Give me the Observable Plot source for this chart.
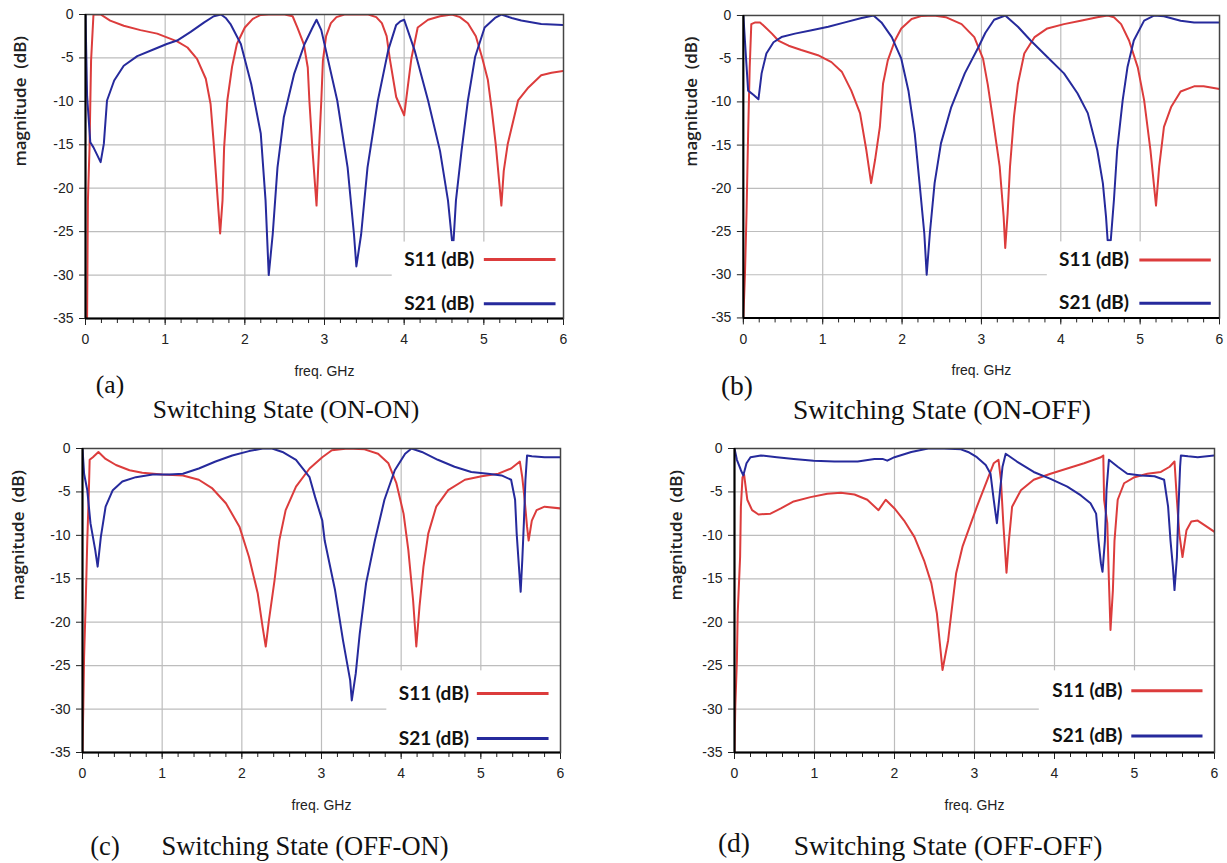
<!DOCTYPE html>
<html><head><meta charset="utf-8">
<script src="https://cdn.jsdelivr.net/npm/d3@7"></script>
<script src="https://cdn.jsdelivr.net/npm/@observablehq/plot@0.6"></script>
<style>
body{margin:0;background:#fff;}
#root{position:relative;width:1227px;height:863px;overflow:hidden;background:#fff;}
.panel{position:absolute;}
.cap{position:absolute;font-family:"Liberation Serif","Times New Roman",serif;font-size:25px;color:#111;white-space:nowrap;transform:translate(-50%,-50%);line-height:1;}
</style></head><body><div id="root"></div>
<script>
// ---- axis ticks / labels ----
const xTicks = [0,1,2,3,4,5,6];
const yTicks = [0,-5,-10,-15,-20,-25,-30,-35];
const seriesNames = ["S11 (dB)","S21 (dB)"];
const seriesColors = ["#dc3c3c","#262a9c"];
const xLabel = "freq. GHz";
const yLabel = "magnitude  (dB)";

// ---- (a) ON-ON : [freq GHz, dB] ----
const aS11 = [[0.02,-35],[0.03,-21.5],[0.05,-15.5],[0.07,-5.3],[0.1,0],[0.19,0],[0.31,-0.7],[0.48,-1.3],[0.69,-1.8],[0.9,-2.2],[1.07,-2.8],[1.15,-3.1],[1.28,-3.8],[1.4,-5.1],[1.51,-7.4],[1.57,-10.3],[1.61,-14.9],[1.66,-21.4],[1.69,-25.2],[1.72,-21.4],[1.74,-15.3],[1.78,-9.9],[1.84,-6],[1.9,-3.4],[2.0,-1.5],[2.1,-0.5],[2.2,-0.05],[2.3,0],[2.5,0],[2.6,-0.2],[2.66,-1.5],[2.74,-3.4],[2.79,-6.1],[2.81,-9.9],[2.85,-15.7],[2.9,-22],[2.93,-15.7],[2.96,-9.9],[2.98,-5.3],[3.02,-2.5],[3.08,-1],[3.15,-0.3],[3.25,0],[3.55,0],[3.65,-0.3],[3.72,-1],[3.78,-2.5],[3.82,-5.1],[3.9,-9.5],[4.0,-11.6],[4.05,-8],[4.09,-5.1],[4.17,-1.5],[4.3,-0.6],[4.45,-0.2],[4.6,0],[4.7,-0.3],[4.8,-1],[4.9,-2.5],[4.98,-5],[5.05,-7.5],[5.1,-11],[5.15,-15],[5.2,-20],[5.22,-22],[5.25,-18],[5.3,-14.9],[5.43,-9.9],[5.56,-8.4],[5.72,-7.0],[5.85,-6.7],[6.0,-6.5]];
const aS21 = [[0,0],[0.02,-9.4],[0.06,-14.7],[0.1,-15.3],[0.19,-17],[0.23,-14.9],[0.27,-9.9],[0.36,-7.6],[0.48,-5.9],[0.65,-4.8],[0.86,-4.0],[1.02,-3.4],[1.15,-3.0],[1.32,-2.0],[1.49,-0.9],[1.61,-0.2],[1.7,0],[1.76,-0.4],[1.82,-1.1],[1.95,-3.4],[2.08,-8],[2.2,-13.7],[2.26,-21.4],[2.3,-30],[2.35,-25.3],[2.41,-17.6],[2.49,-11.8],[2.62,-6.8],[2.75,-3.4],[2.85,-1.5],[2.9,-0.6],[2.96,-1.8],[3.16,-9.9],[3.29,-17.6],[3.37,-25.3],[3.4,-29],[3.46,-25.3],[3.54,-17.6],[3.67,-9.9],[3.8,-4.1],[3.9,-1.2],[3.95,-0.8],[4.0,-0.6],[4.13,-4.1],[4.3,-9.9],[4.45,-15.7],[4.55,-21.4],[4.6,-26],[4.62,-26],[4.65,-21.4],[4.72,-15.7],[4.8,-9.9],[4.89,-4.9],[5.01,-1.5],[5.14,-0.4],[5.22,0],[5.35,-0.4],[5.47,-0.7],[5.72,-1.1],[6.0,-1.2]];

// ---- (b) ON-OFF ----
const bS11 = [[0,-35],[0.02,-30],[0.04,-22.9],[0.06,-13.7],[0.08,-6],[0.1,-1.0],[0.15,-0.8],[0.21,-0.8],[0.27,-1.3],[0.36,-2.1],[0.44,-2.9],[0.57,-3.5],[0.73,-4.0],[0.94,-4.6],[1.11,-5.4],[1.24,-6.5],[1.36,-8.7],[1.47,-11.3],[1.55,-15.6],[1.61,-19.4],[1.66,-16.7],[1.72,-12.9],[1.76,-7.9],[1.82,-5.2],[1.91,-2.9],[1.99,-1.5],[2.12,-0.4],[2.25,-0.05],[2.4,0],[2.55,-0.2],[2.75,-1.0],[2.91,-2.5],[3.02,-5],[3.08,-8],[3.14,-11.7],[3.23,-17.5],[3.28,-23.3],[3.3,-26.9],[3.33,-22.9],[3.36,-17.5],[3.41,-11.7],[3.46,-7.9],[3.54,-4.4],[3.67,-2.5],[3.83,-1.5],[4.04,-1.0],[4.25,-0.6],[4.46,-0.2],[4.59,0],[4.67,-0.2],[4.76,-1.0],[4.86,-2.9],[4.97,-6],[5.05,-9.8],[5.13,-15.6],[5.2,-22],[5.24,-17.5],[5.3,-12.9],[5.39,-10.6],[5.51,-8.8],[5.68,-8.2],[5.8,-8.2],[6.0,-8.5]];
const bS21 = [[0,0],[0.03,-4.4],[0.06,-8.7],[0.13,-9.2],[0.19,-9.7],[0.23,-6.7],[0.29,-4.4],[0.38,-3.1],[0.48,-2.5],[0.65,-2.1],[0.86,-1.7],[1.07,-1.3],[1.28,-0.8],[1.49,-0.3],[1.64,0],[1.74,-0.8],[1.87,-2.5],[1.99,-5],[2.08,-8.7],[2.16,-13.7],[2.22,-19.4],[2.28,-25.2],[2.31,-30],[2.35,-25.2],[2.41,-19.4],[2.49,-14.8],[2.62,-10.6],[2.79,-6.7],[2.96,-3.7],[3.05,-2],[3.16,-0.5],[3.3,0],[3.46,-1.3],[3.62,-2.9],[3.83,-4.8],[4.04,-6.7],[4.21,-9],[4.34,-11.3],[4.46,-15.6],[4.53,-19.4],[4.57,-23.3],[4.59,-26],[4.63,-26],[4.67,-21.3],[4.71,-15.6],[4.78,-9.8],[4.84,-6],[4.92,-2.9],[5.05,-0.6],[5.18,0],[5.3,-0.1],[5.51,-0.6],[5.68,-0.8],[6.0,-0.8]];

// ---- (c) OFF-ON ----
const cS11 = [[0,-35],[0.01,-29.7],[0.02,-24],[0.04,-17.8],[0.06,-10.6],[0.08,-4.8],[0.09,-1.3],[0.13,-1.0],[0.2,-0.4],[0.29,-1.2],[0.42,-1.9],[0.59,-2.5],[0.75,-2.8],[1.0,-3.0],[1.26,-3.1],[1.46,-3.6],[1.63,-4.6],[1.8,-6.3],[1.97,-9.0],[2.09,-12.5],[2.2,-16.7],[2.26,-20.5],[2.3,-22.8],[2.34,-19.8],[2.41,-15.2],[2.47,-10.6],[2.55,-7.1],[2.68,-4.4],[2.85,-2.3],[3.01,-1.0],[3.13,-0.2],[3.33,0],[3.54,-0.1],[3.71,-0.6],[3.84,-1.7],[3.94,-4.0],[4.03,-7.5],[4.09,-11.7],[4.15,-17.5],[4.19,-22.8],[4.23,-18.2],[4.28,-13.6],[4.34,-9.8],[4.44,-6.7],[4.59,-4.8],[4.8,-3.6],[5.01,-3.2],[5.22,-2.9],[5.38,-2.3],[5.49,-1.5],[5.52,-3.3],[5.55,-5.9],[5.58,-9.0],[5.6,-10.6],[5.64,-8.3],[5.7,-7.1],[5.8,-6.7],[6.0,-6.9]];
const cS21 = [[0,0],[0.02,-2.9],[0.06,-4.8],[0.1,-8.6],[0.16,-11.7],[0.19,-13.6],[0.23,-10.2],[0.29,-6.7],[0.38,-4.8],[0.5,-3.8],[0.67,-3.3],[0.88,-3.0],[1.09,-3.0],[1.26,-2.9],[1.46,-2.3],[1.67,-1.5],[1.88,-0.8],[2.09,-0.3],[2.26,0],[2.38,0],[2.51,-0.4],[2.68,-1.3],[2.85,-3.3],[2.92,-5.6],[3.01,-8.3],[3.04,-10.6],[3.17,-16.3],[3.27,-22.1],[3.36,-26.7],[3.38,-29],[3.43,-25.9],[3.48,-21.3],[3.56,-15.5],[3.67,-10.6],[3.79,-5.9],[3.92,-2.5],[4.05,-0.6],[4.13,0],[4.26,-0.4],[4.46,-1.3],[4.67,-2.1],[4.88,-2.7],[5.09,-2.9],[5.26,-3.1],[5.38,-3.6],[5.43,-5.9],[5.45,-9.8],[5.47,-12.5],[5.5,-16.5],[5.52,-12.9],[5.54,-8.6],[5.56,-3.6],[5.58,-0.8],[5.64,-0.9],[5.8,-1.0],[6.0,-1.0]];

// ---- (d) OFF-OFF ----
const dS11 = [[0,-35],[0.01,-29.7],[0.03,-24.4],[0.04,-19],[0.07,-12.5],[0.08,-6.7],[0.1,-3.3],[0.12,-3.0],[0.16,-5.9],[0.22,-7.1],[0.3,-7.6],[0.45,-7.5],[0.58,-6.9],[0.74,-6.1],[0.95,-5.6],[1.16,-5.2],[1.33,-5.1],[1.5,-5.3],[1.66,-5.9],[1.8,-7.1],[1.89,-5.9],[2.0,-6.9],[2.12,-8.3],[2.25,-10.2],[2.37,-12.9],[2.46,-15.5],[2.53,-19],[2.6,-25.5],[2.67,-22.1],[2.72,-18.2],[2.77,-14.4],[2.85,-11.3],[2.94,-9.0],[3.03,-6.7],[3.16,-3.6],[3.24,-1.7],[3.3,-1.3],[3.33,-3.6],[3.36,-8.6],[3.4,-14.3],[3.43,-10.6],[3.47,-6.7],[3.58,-4.8],[3.74,-3.6],[3.95,-2.9],[4.16,-2.3],[4.37,-1.7],[4.58,-1.0],[4.61,-0.8],[4.62,-5.9],[4.66,-8.6],[4.68,-15.2],[4.7,-20.9],[4.73,-16.3],[4.75,-10.6],[4.79,-5.9],[4.87,-4.0],[5.0,-3.3],[5.16,-2.9],[5.33,-2.7],[5.44,-2.1],[5.5,-1.5],[5.53,-5.9],[5.56,-9.8],[5.6,-12.5],[5.65,-9.4],[5.71,-8.4],[5.79,-8.3],[5.87,-8.8],[6.0,-9.6]];
const dS21 = [[0,0],[0.03,-1.3],[0.08,-2.5],[0.11,-3.1],[0.15,-1.7],[0.2,-1.0],[0.33,-0.8],[0.53,-1.0],[0.74,-1.2],[0.99,-1.4],[1.25,-1.5],[1.54,-1.5],[1.75,-1.2],[1.85,-1.2],[1.91,-1.4],[2.0,-1.0],[2.21,-0.4],[2.42,0],[2.62,0],[2.83,-0.1],[2.92,-0.4],[3.03,-1.0],[3.14,-1.9],[3.2,-2.9],[3.24,-5.9],[3.28,-8.6],[3.32,-4.8],[3.35,-2.1],[3.39,-0.6],[3.53,-1.5],[3.74,-2.7],[3.95,-3.5],[4.16,-4.4],[4.33,-5.4],[4.45,-6.3],[4.52,-7.5],[4.55,-10.6],[4.58,-13.2],[4.6,-14.2],[4.63,-10.6],[4.65,-4.8],[4.68,-1.3],[4.79,-2.1],[4.91,-2.9],[5.08,-3.1],[5.25,-3.2],[5.37,-3.6],[5.42,-6.7],[5.45,-10.6],[5.48,-13.6],[5.5,-16.3],[5.53,-12.5],[5.55,-6.7],[5.57,-2.1],[5.58,-0.8],[5.67,-0.9],[5.79,-1.0],[6.0,-0.8]];

const panelLetters = ["(a)","(b)","(c)","(d)"];
const panelTitles = ["Switching State (ON-ON)","Switching State (ON-OFF)","Switching State (OFF-ON)","Switching State (OFF-OFF)"];

// ---- layout (page pixels) ----
const layout = [
  {L:85, R:563, T:14, B:318, ylabDx:-65, capSize:25.5, letter:[110,385], title:[286,410], leg:{boxX:3.85, boxY:-26.2, textX:4.88, lx1:5.0, lx2:5.9, y:[-28.2,-33.3]}},
  {L:743,R:1220,T:15, B:318, ylabDx:-52, capSize:27.5, letter:[737,386], title:[942,410], leg:{boxX:3.83, boxY:-26.2, textX:4.86, lx1:4.99, lx2:5.89, y:[-28.3,-33.3]}},
  {L:82, R:560, T:448,B:752, ylabDx:-64, capSize:26.5, letter:[105,846], title:[305,846], leg:{boxX:3.82, boxY:-25.6, textX:4.85, lx1:4.95, lx2:5.85, y:[-28.2,-33.4]}},
  {L:734,R:1214,T:448,B:752, ylabDx:-58, capSize:27.5, letter:[734,843], title:[948,846], leg:{boxX:3.81, boxY:-25.6, textX:4.85, lx1:4.96, lx2:5.85, y:[-27.9,-33.1]}}
];
const panelData = [[aS11,aS21],[bS11,bS21],[cS11,cS21],[dS11,dS21]];

const root = document.getElementById("root");
const minorTicks = d3.range(0, 30.5, 1).map(i => i / 5);
const ML = 80, MT = 14, MR = 8, MB = 70;

layout.forEach((p, i) => {
  const [s11, s21] = panelData[i];
  const lg = p.leg;
  const legendRows = seriesNames.map((name, k) => ({name, color: seriesColors[k], tx: lg.textX, x1: lg.lx1, x2: lg.lx2, y: lg.y[k]}));
  const box = [{x1: lg.boxX, x2: 6, y1: -35, y2: lg.boxY}];
  const chart = Plot.plot({
    width: p.R - p.L + ML + MR,
    height: p.B - p.T + MT + MB,
    marginLeft: ML, marginRight: MR, marginTop: MT, marginBottom: MB,
    x: {domain: [0, 6]},
    y: {domain: [-35, 0]},
    style: {fontFamily: "'Liberation Sans', Arial, sans-serif", fontSize: "14px", color: "#222", background: "transparent", overflow: "visible"},
    marks: [
      Plot.gridX({ticks: xTicks.slice(1, -1), stroke: "#bdbdbd", strokeOpacity: 1, strokeWidth: 1.2}),
      Plot.gridY({ticks: yTicks.slice(1, -1), stroke: "#bdbdbd", strokeOpacity: 1, strokeWidth: 1.2}),
      Plot.line(s11, {x: d => d[0], y: d => d[1], stroke: seriesColors[0], strokeWidth: 2, clip: true}),
      Plot.line(s21, {x: d => d[0], y: d => d[1], stroke: seriesColors[1], strokeWidth: 2, clip: true}),
      Plot.rect(box, {x1: "x1", x2: "x2", y1: "y1", y2: "y2", fill: "white"}),
      Plot.text(legendRows, {x: "tx", y: "y", text: "name", textAnchor: "end", fontWeight: 700, fontSize: 19, fontFamily: "Lato, 'Open Sans', sans-serif", fill: "#111"}),
      Plot.link(legendRows, {x1: "x1", x2: "x2", y1: "y", y2: "y", stroke: "color", strokeWidth: 3}),
      Plot.axisY({ticks: yTicks, tickSize: 6, tickPadding: 6, tickFormat: d => String(d), label: null, fill: "#222"}),
      Plot.axisX({ticks: minorTicks, tickSize: 5, tickFormat: () => "", label: null}),
      Plot.axisX({ticks: xTicks, tickSize: 7, tickPadding: 9, tickFormat: d => String(d), label: null, fill: "#222"}),
      Plot.frame({stroke: "#444", strokeWidth: 1.5}),
      Plot.ruleX([0], {stroke: "#000", strokeWidth: 2}),
      Plot.ruleY([-35], {stroke: "#000", strokeWidth: 2}),
      Plot.text([yLabel], {text: d => d, frameAnchor: "left", dx: p.ylabDx, rotate: -90, fontWeight: 600, fontSize: 17, fontFamily: "'Open Sans', sans-serif", fill: "#222"}),
      Plot.text([xLabel], {text: d => d, frameAnchor: "bottom", dy: 57, fontSize: 14, fill: "#222"})
    ]
  });
  const wrap = document.createElement("div");
  wrap.className = "panel";
  wrap.style.left = (p.L - ML) + "px";
  wrap.style.top = (p.T - MT) + "px";
  wrap.appendChild(chart);
  root.appendChild(wrap);

  const letter = document.createElement("div");
  letter.className = "cap";
  letter.textContent = panelLetters[i];
  letter.style.fontSize = p.capSize + "px";
  letter.style.left = p.letter[0] + "px";
  letter.style.top = p.letter[1] + "px";
  root.appendChild(letter);

  const title = document.createElement("div");
  title.className = "cap";
  title.textContent = panelTitles[i];
  title.style.fontSize = p.capSize + "px";
  title.style.left = p.title[0] + "px";
  title.style.top = p.title[1] + "px";
  root.appendChild(title);
});
</script>
</body></html>
